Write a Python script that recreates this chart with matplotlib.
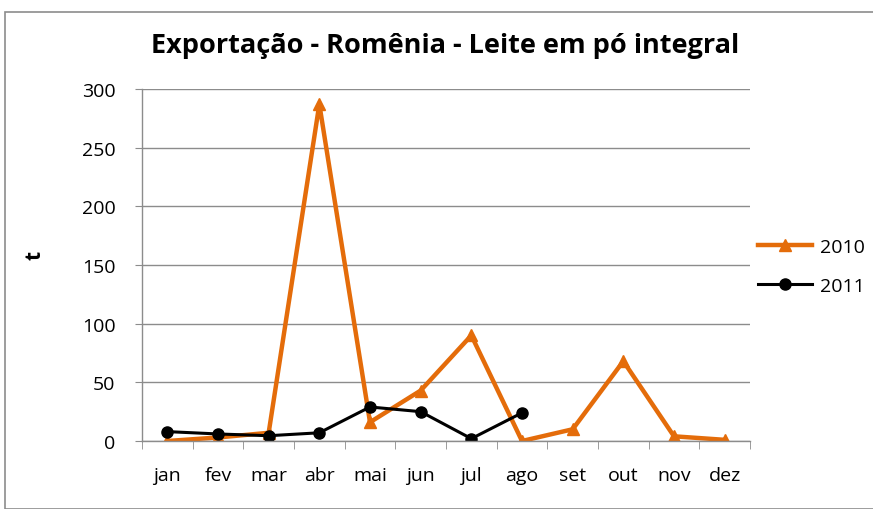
import matplotlib.pyplot as plt
from matplotlib.patches import Rectangle

meses = ['jan', 'fev', 'mar', 'abr', 'mai', 'jun', 'jul', 'ago', 'set', 'out', 'nov', 'dez']
v2010 = [0, 3, 7, 287, 16, 43, 90, 0, 10, 68, 4, 1]
meses_2011 = meses[:8]
v2011 = [8, 6, 4.5, 7, 29, 25, 2, 24]

plt.rcParams['font.family'] = ['Open Sans', 'DejaVu Sans']

fig = plt.figure(figsize=(8.73, 5.10), dpi=100)
fig.patches.append(Rectangle((5 / 873, 0), 1, 1 - 13 / 510, transform=fig.transFigure,
                             fill=False, edgecolor='#8c8c8c', linewidth=1.2))
ax = fig.add_axes([142 / 873, 1 - 442 / 510, 608 / 873, 352 / 510])

x = range(len(meses))
ax.plot(x, v2010, color='#E46C0A', linewidth=3.2, marker='^', markersize=8, label='2010')
ax.plot(range(len(meses_2011)), v2011, color='black', linewidth=2.2, marker='o', markersize=8, label='2011')

ax.set_xlim(-0.5, 11.5)
ax.set_ylim(0, 300)
ax.set_yticks(range(0, 301, 50))
ax.set_xticks(list(x))
ax.set_xticklabels(meses)
ax.set_xticks([i - 0.5 for i in range(13)], minor=True)
ax.tick_params(axis='x', which='major', length=0, pad=18, labelsize=14)
ax.tick_params(axis='x', which='minor', length=6, color='#8c8c8c')
ax.tick_params(axis='y', length=5, color='#8c8c8c', labelsize=14, pad=14)
ax.grid(axis='y', color='#8c8c8c', linewidth=1)
ax.set_axisbelow(True)
for s in ['top', 'right']:
    ax.spines[s].set_visible(False)
for s in ['left', 'bottom']:
    ax.spines[s].set_color('#8c8c8c')
    ax.spines[s].set_linewidth(1)

fig.text(35 / 873, 1 - 255 / 510, 't', rotation=90, ha='center', va='center',
         fontsize=15, fontweight='bold')
fig.text(0.51, 1 - 46 / 510, 'Exportação - Romênia - Leite em pó integral',
         ha='center', va='center', fontsize=19.5, fontweight='bold')

ax.legend(loc='center left', bbox_to_anchor=(1.0, 0.496), frameon=False, fontsize=14,
          handlelength=2.8, labelspacing=1.05, handletextpad=0.4, borderaxespad=0)

plt.savefig('out.png', dpi=100)
